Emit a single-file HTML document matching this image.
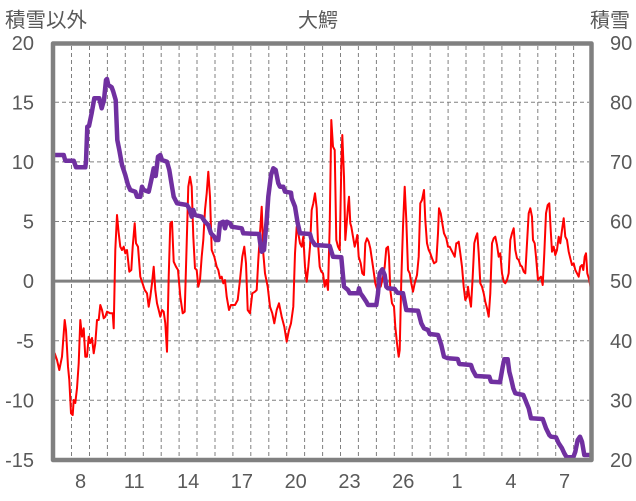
<!DOCTYPE html>
<html><head><meta charset="utf-8"><style>
html,body{margin:0;padding:0;background:#fff;}
svg{display:block;}
text{font-family:"Liberation Sans","Noto Sans CJK JP",sans-serif;fill:#595959;}
</style></head><body>
<svg width="636" height="501" viewBox="0 0 636 501" xmlns="http://www.w3.org/2000/svg">
<rect width="636" height="501" fill="#fff"/>
<g stroke="#808080" stroke-width="1" stroke-dasharray="4 3" fill="none">
<line x1="55" y1="102.3" x2="589" y2="102.3"/>
<line x1="55" y1="161.9" x2="589" y2="161.9"/>
<line x1="55" y1="221.5" x2="589" y2="221.5"/>
<line x1="55" y1="340.7" x2="589" y2="340.7"/>
<line x1="55" y1="400.3" x2="589" y2="400.3"/>
<line x1="71.5" y1="46" x2="71.5" y2="458"/>
<line x1="89.5" y1="46" x2="89.5" y2="458"/>
<line x1="107.4" y1="46" x2="107.4" y2="458"/>
<line x1="125.3" y1="46" x2="125.3" y2="458"/>
<line x1="143.3" y1="46" x2="143.3" y2="458"/>
<line x1="161.2" y1="46" x2="161.2" y2="458"/>
<line x1="179.1" y1="46" x2="179.1" y2="458"/>
<line x1="197.0" y1="46" x2="197.0" y2="458"/>
<line x1="215.0" y1="46" x2="215.0" y2="458"/>
<line x1="232.9" y1="46" x2="232.9" y2="458"/>
<line x1="250.8" y1="46" x2="250.8" y2="458"/>
<line x1="268.8" y1="46" x2="268.8" y2="458"/>
<line x1="286.7" y1="46" x2="286.7" y2="458"/>
<line x1="304.6" y1="46" x2="304.6" y2="458"/>
<line x1="322.6" y1="46" x2="322.6" y2="458"/>
<line x1="340.5" y1="46" x2="340.5" y2="458"/>
<line x1="358.4" y1="46" x2="358.4" y2="458"/>
<line x1="376.4" y1="46" x2="376.4" y2="458"/>
<line x1="394.3" y1="46" x2="394.3" y2="458"/>
<line x1="412.2" y1="46" x2="412.2" y2="458"/>
<line x1="430.2" y1="46" x2="430.2" y2="458"/>
<line x1="448.1" y1="46" x2="448.1" y2="458"/>
<line x1="466.0" y1="46" x2="466.0" y2="458"/>
<line x1="484.0" y1="46" x2="484.0" y2="458"/>
<line x1="501.9" y1="46" x2="501.9" y2="458"/>
<line x1="519.8" y1="46" x2="519.8" y2="458"/>
<line x1="537.8" y1="46" x2="537.8" y2="458"/>
<line x1="555.7" y1="46" x2="555.7" y2="458"/>
<line x1="573.6" y1="46" x2="573.6" y2="458"/>
</g>
<line x1="55" y1="281.1" x2="589" y2="281.1" stroke="#808080" stroke-width="3"/>
<polyline fill="none" stroke="#FF0000" stroke-width="2" stroke-linejoin="round" points="53.7,363.3 54.7,353.3 57,360 59.3,370 62,356.7 64.7,320 66,330 68,366.7 69.3,380 71,413.3 72.7,415 73.7,400 75.3,403 77,388.3 78.7,363.3 80.3,320 82,336.7 83.7,328.3 85.3,356.7 87,356.7 88.7,336.7 90.3,343 92,338 93.7,353.3 95.3,343.3 97,320 98.7,320 100.3,305 102,310 103.7,318.3 105.3,316.7 107,311.7 110.3,313.3 112.7,313.3 113.7,328.3 115.3,250 117,215 118.7,233.3 120.3,246.7 122,250 123.7,246.7 125.3,253.3 127,250 129.3,271.7 131.3,270 132.7,246.7 134.7,223.3 136,243.3 138,246.7 140.3,276.7 142,281.7 144.7,290 147,293.3 148.7,306.7 150.3,296.7 152,283.3 153.7,266.7 155.3,290 157,303.3 158.7,310 160.3,316.7 162,310 163.7,311.7 165.3,323.3 167,351.7 168.7,276.7 170.3,223.3 172,221.7 173.7,261.7 176,266.7 178,270 180.3,296.7 182.7,313.3 184.7,311.7 186.7,243.3 188.3,186.7 190,176.7 191.7,186.7 193.3,236.7 195,268.3 196.7,270 198.3,286.7 200,280 201.7,256.7 203.3,240 205,210 206.7,193.3 208.3,171.7 210,196.7 211.7,250 214.3,256.7 216.7,266.7 218.3,270 220,278.3 221.7,276.7 223.3,283.3 225,280 226.7,296.7 229,310 231,305 235,305 237.7,300 240,280 242.3,256.7 244.3,246.7 246,263.3 247.7,310 250,313.3 252.3,293.3 255,291.7 256.7,290 258.3,260 260,233.3 261.7,206.7 263.3,253.3 265,273.3 267.7,286.7 270,306.7 272.3,313.3 274.3,323.3 276.7,310 279,303.3 281.7,316.7 284.3,326.7 286.7,341.7 289,330 291,323.3 293.3,306.7 295,253.3 296.7,226.7 298.3,233.3 300,243.3 301.7,246.7 303.3,236.7 305,266.7 306.7,281.7 308.3,266.7 310,246.7 311.7,210 313.3,203.3 315,193.3 316.7,208.3 318,243.3 319.7,266.7 321.3,271.7 323,273.3 324.7,286.7 326.3,280 328,290 329.7,226.7 331.3,120 333,146.7 334.7,150 336.3,240 338,246.7 339.7,250 341.3,166.7 342.3,135 344,176.7 345.3,240 346.7,223.3 348,206.7 349,196.7 350.3,223.3 351.3,226.7 353,236.7 354.7,246.7 356.3,240 357.3,235 358.7,256.7 360.7,263.3 362.3,273.3 364,275 365.3,243.3 367,238.3 368.7,241.7 370.3,248.3 373,266.7 375.3,283.3 377.3,290 378.7,283.3 380.7,286.7 383,276.7 384.7,266.7 386.3,248.3 388,246.7 389,256.7 390.3,290 392,303.3 394,306.7 395.3,326.7 397,343.3 398.7,356.7 399.7,350 401.3,280 403,226.7 404.7,186.7 406.3,220 408,270 409.7,273.3 411.3,283.3 413,291.7 414.7,283.3 417,275 418.7,256.7 420.3,203.3 422,200 424,190 425.3,220 427,243.3 428.7,250 430.3,253.3 432,258.3 434,263.3 436.3,261.7 438,233.3 439,208.3 440.7,213.3 442.3,223.3 444,233.3 446.3,238.3 448,246.7 449.7,246.7 451.3,250 453,253.3 454.7,256.7 456.3,243.3 457,243.3 458.7,241.7 460.3,253.3 462,266.7 463.7,286.7 465.3,300 467,296.7 468,286.7 469.3,296.7 471,306.7 472.7,276.7 474.3,243.3 476,236.7 477.3,233.3 478.7,253.3 480.3,283.3 482,286.7 483.7,293.3 485.3,301.7 487,308.3 488.7,316.7 490.3,293.3 492,243.3 493.7,238.3 495.3,236.7 497,245 498.7,256.7 500.3,253.3 502,273.3 503.7,281.7 505.3,283.3 507,280 508.7,273.3 510.3,240 512,233.3 513.7,228.3 515.3,250 517,258.3 518.7,260 520.3,265 522,266.7 523.7,271.7 525.3,273.3 527,243.3 528.7,213.3 530.3,208.3 532,216.7 533,240 534.7,243.3 536,256.7 538,280 539.3,278.3 541,276.7 542.7,285 544.3,253.3 546,213.3 547.7,205 549.3,203.3 550.7,230 552,251.7 553.7,246.7 555.3,255 557,250 558.7,236.7 560.3,243.3 562,230 563.7,218.3 565.3,236.7 567,240 568.7,251.7 570.3,258.3 572,265 573.7,263.3 575.3,270 577,273.3 578.7,276.7 580.3,266.7 582,265 583.3,270 584.7,256.7 586,253.3 587.3,273.3 589.3,280 591.3,291.7"/>
<polyline fill="none" stroke="#7030A0" stroke-width="4.5" stroke-linejoin="round" stroke-linecap="round" points="53.7,155 63.7,155 65.3,160.7 73.7,160.7 76,167.3 85.3,167.3 86,161.7 87.3,126.7 89,126 91.7,113 94.3,98.3 99.3,98.3 101.7,108.3 104,100 106,80 107,79 108.3,85 111.7,87.3 113.3,91.7 115.7,100 117.3,140 119.3,150 122,165 125.3,175 128,185 130.3,190 135.3,191.7 137,196.7 140.3,196.7 142,186.7 143.7,190 148.7,191.7 151.3,180 153.7,168.3 155.7,176 158,156.7 160.3,155 162,160 167,161.7 169.3,170 172,186.7 173.7,196.7 177,203.3 187,205 190,210 191.7,216.7 193.3,210 195,215 201.7,216.7 205,221.7 208.3,225 211,233.3 214.3,236.7 215.7,240 218.3,240 220,223.3 223.3,221.7 225,228.3 226.7,221.7 230,223.3 231.7,226.7 241.7,228.3 243.3,233.3 259,234 260,241.7 261.7,251.7 264,250 266.7,220 268.3,196.7 271,175 273.3,168.3 275.7,170 278.3,183.3 280,186.7 283.3,186.7 285,191.7 291,192.7 291.7,198.3 295,206.7 297.7,223.3 300,233.3 310,234 311.7,240 315,245 329.7,246 333,256.7 341.3,257.3 344,286.7 348,290 349.7,293.3 358,293.3 359,288.3 360.5,293.3 363,296.7 366.3,301.7 368,305 376.3,305 378,293.3 379.7,273.3 382.3,269.3 384.7,275 386.3,286.7 388,288.3 394.7,289 397.3,292.7 403,293.3 405.3,305 406.3,310 418,310.7 421.3,323.3 424,328.3 428,330 429.7,334 438,335 441.3,345 444,356.7 448,358.3 457.7,359 459.3,364 471,365 472.7,370 476,376 489.3,376.7 491,381.7 500,382.3 502.7,366.7 504.3,359.3 507.7,359.3 509.3,371.7 511,378.3 513.3,388.3 515.3,393.3 523.3,395 526,401.7 528.7,408.3 531,418.3 542.7,419 546,428.3 549.3,435 551,436.7 556,437.3 558.7,443.3 562,448.3 564.3,453.3 566.7,457.3 573.3,457.3 575.3,451.7 577.7,440 580,436.7 582,441.7 584.3,455 591,455"/>
<rect x="53" y="43.5" width="538.5" height="416.5" fill="none" stroke="#808080" stroke-width="4.5" stroke-linejoin="round"/>
<g font-size="20" text-anchor="end">
<text x="34" y="50">20</text>
<text x="34" y="109.5">15</text>
<text x="34" y="169">10</text>
<text x="34" y="228.5">5</text>
<text x="34" y="288">0</text>
<text x="34" y="348">-5</text>
<text x="34" y="407.5">-10</text>
<text x="34" y="467">-15</text>
</g>
<g font-size="20" text-anchor="start">
<text x="610" y="50">90</text>
<text x="610" y="109.5">80</text>
<text x="610" y="169">70</text>
<text x="610" y="228.5">60</text>
<text x="610" y="288">50</text>
<text x="610" y="348">40</text>
<text x="610" y="407.5">30</text>
<text x="610" y="467">20</text>
</g>
<g font-size="20" text-anchor="middle">
<text x="80.5" y="488">8</text>
<text x="134.3" y="488">11</text>
<text x="188.1" y="488">14</text>
<text x="241.9" y="488">17</text>
<text x="295.7" y="488">20</text>
<text x="349.5" y="488">23</text>
<text x="403.3" y="488">26</text>
<text x="457.1" y="488">1</text>
<text x="510.9" y="488">4</text>
<text x="564.6" y="488">7</text>
</g>
<text x="5" y="27" font-size="20.5">積雪以外</text>
<text x="318" y="27" font-size="20" text-anchor="middle">大鰐</text>
<text x="610" y="27" font-size="20" text-anchor="middle">積雪</text>
</svg>
</body></html>
